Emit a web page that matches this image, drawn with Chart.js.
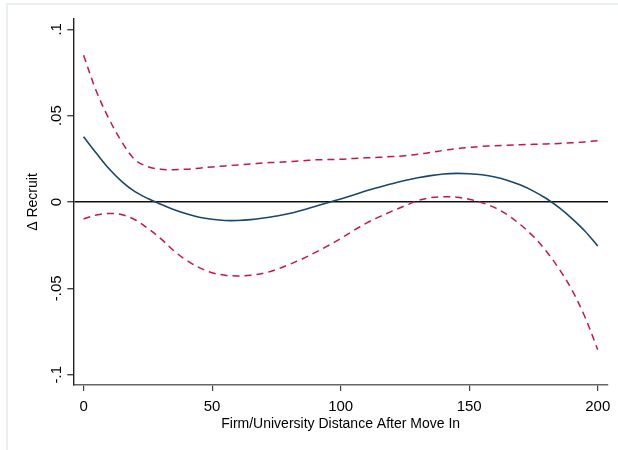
<!DOCTYPE html>
<html>
<head>
<meta charset="utf-8">
<script src="https://cdn.jsdelivr.net/npm/chart.js@4.4.1/dist/chart.umd.min.js"></script>
<style>
  html, body { margin: 0; padding: 0; background: #ffffff; }
  #wrap { position: relative; width: 618px; height: 450px; }
  #frame { position: absolute; left: 6px; top: 3px; right: -10px; bottom: -10px;
           border-left: 2px solid #eaf0f1; border-top: 2px solid #eaf0f1; pointer-events: none; }
  canvas { position: absolute; left: 0; top: 0; }
</style>
</head>
<body>
<div id="wrap">
  <div id="frame"></div>
  <canvas id="c" width="618" height="450"></canvas>
</div>
<script>
// ---- data ----
const distance = [0, 5, 10, 15, 20, 25, 30, 35, 40, 45, 50, 55, 60, 65, 70, 75, 80, 85, 90, 95, 100,
                  105, 110, 115, 120, 125, 130, 135, 140, 145, 150, 155, 160, 165, 170, 175, 180, 185, 190, 195, 200];
const estimate = [0.0378, 0.0282, 0.0191, 0.0117, 0.0060, 0.0020, -0.0013, -0.0043, -0.0068, -0.0088, -0.0100, -0.0107, -0.0107, -0.0102, -0.0093, -0.0081, -0.0067, -0.0048, -0.0026, -0.0004, 0.0018,
                  0.0041, 0.0065, 0.0086, 0.0106, 0.0124, 0.0140, 0.0153, 0.0162, 0.0166, 0.0164, 0.0158, 0.0145, 0.0125, 0.0098, 0.0063, 0.0020, -0.0033, -0.0096, -0.0168, -0.0255];
const upperCI  = [0.0850, 0.0640, 0.0478, 0.0345, 0.0245, 0.0205, 0.0190, 0.0187, 0.0190, 0.0196, 0.0203, 0.0209, 0.0215, 0.0220, 0.0226, 0.0230, 0.0234, 0.0239, 0.0244, 0.0246, 0.0248,
                  0.0252, 0.0256, 0.0259, 0.0263, 0.0268, 0.0276, 0.0287, 0.0299, 0.0309, 0.0316, 0.0322, 0.0326, 0.0329, 0.0332, 0.0334, 0.0336, 0.0339, 0.0343, 0.0348, 0.0355];
const lowerCI  = [-0.0098, -0.0075, -0.0066, -0.0074, -0.0103, -0.0153, -0.0212, -0.0281, -0.0337, -0.0380, -0.0410, -0.0424, -0.0428, -0.0424, -0.0413, -0.0391, -0.0362, -0.0330, -0.0293, -0.0254, -0.0212,
                  -0.0166, -0.0122, -0.0086, -0.0053, -0.0022, 0.0008, 0.0025, 0.0030, 0.0028, 0.0016, -0.0004, -0.0033, -0.0075, -0.0132, -0.0200, -0.0285, -0.0388, -0.0510, -0.0665, -0.0855];
const xTickValues = [0, 50, 100, 150, 200];
const yTickValues = [-0.1, -0.05, 0, 0.05, 0.1];
const yTickLabels = ["-.1", "-.05", "0", ".05", ".1"];
const xTitle = "Firm/University Distance After Move In";
const yTitle = "\u0394 Recruit";

const toPoints = (ys) => distance.map((d, i) => ({ x: d, y: ys[i] }));
const red = '#c8164a';
const navy = '#1a476f';

new Chart(document.getElementById('c'), {
  type: 'line',
  data: {
    datasets: [
      { data: toPoints(upperCI), borderColor: red, borderWidth: 1.5, borderDash: [7, 5], pointRadius: 0, tension: 0.35, fill: false },
      { data: toPoints(estimate), borderColor: navy, borderWidth: 1.6, pointRadius: 0, tension: 0.35, fill: false },
      { data: toPoints(lowerCI), borderColor: red, borderWidth: 1.5, borderDash: [7, 5], pointRadius: 0, tension: 0.35, fill: false }
    ]
  },
  options: {
    responsive: false,
    animation: false,
    events: [],
    layout: { padding: { left: 25, right: 10, top: 19, bottom: 17 } },
    plugins: { legend: { display: false }, tooltip: { enabled: false } },
    scales: {
      x: {
        type: 'linear',
        min: -4, max: 204,
        afterBuildTicks: (s) => { s.ticks = xTickValues.map(v => ({ value: v })); },
        afterFit: (s) => { s.height = 48; },
        ticks: { color: '#000', font: { family: 'Liberation Sans, Arial', size: 15 }, padding: 7, maxRotation: 0, minRotation: 0 },
        grid: { drawOnChartArea: false, tickLength: 6, tickColor: '#444', lineWidth: 1.2 },
        border: { display: true, color: '#666', width: 1.6 },
        title: { display: true, text: xTitle, color: '#000', font: { family: 'Liberation Sans, Arial', size: 14 }, padding: { top: 0, bottom: 0 } }
      },
      y: {
        type: 'linear',
        min: -0.106, max: 0.106,
        afterBuildTicks: (s) => { s.ticks = yTickValues.map(v => ({ value: v })); },
        afterFit: (s) => { s.width = 48.3; },
        ticks: {
          color: '#000', font: { family: 'Liberation Sans, Arial', size: 15 },
          minRotation: 90, maxRotation: 90, crossAlign: 'center', padding: -2,
          callback: (v) => { const i = yTickValues.findIndex(t => Math.abs(t - v) < 1e-9); return i >= 0 ? yTickLabels[i] : ''; }
        },
        grid: {
          drawOnChartArea: true, tickLength: 6, tickColor: '#444', lineWidth: 1.4,
          color: (c) => (c.tick && Math.abs(c.tick.value) < 1e-9) ? '#111' : 'rgba(0,0,0,0)'
        },
        border: { display: true, color: '#222', width: 1.4 },
        title: { display: true, text: yTitle, color: '#000', font: { family: 'Liberation Sans, Arial', size: 14 }, padding: { top: 0, bottom: 0 } }
      }
    }
  }
});
</script>
</body>
</html>
